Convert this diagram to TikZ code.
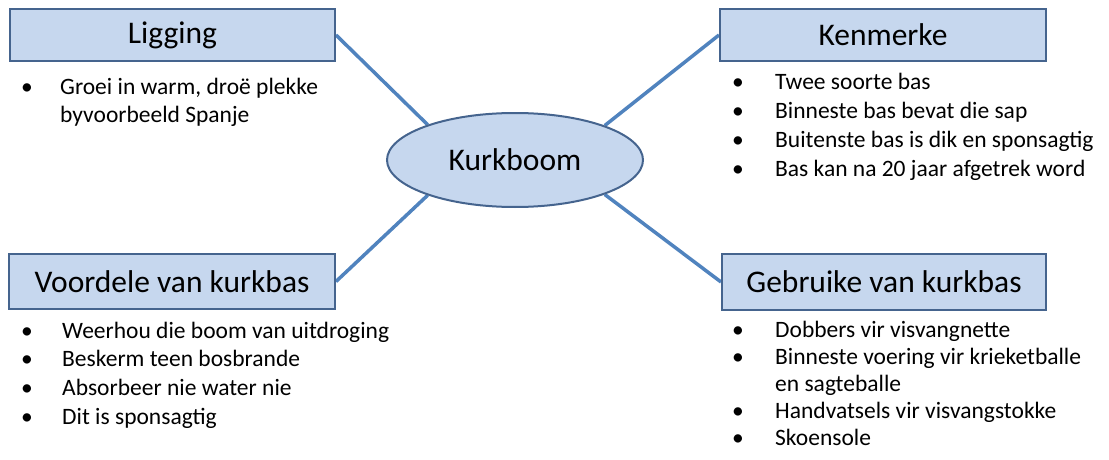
\documentclass[tikz,border=0pt]{standalone}
\usepackage{fontspec}
\setmainfont{Carlito}
\usetikzlibrary{shapes.geometric}
\pgfdeclarelayer{background}
\pgfsetlayers{background,main}
\definecolor{boxfill}{HTML}{C6D7EE}
\definecolor{boxline}{HTML}{45648E}
\definecolor{linkline}{HTML}{5083BE}
\newcommand{\bul}{\textbullet}
\tikzset{
  headbox/.style={draw=boxline, line width=2pt, fill=boxfill, inner sep=0pt,
    font=\fontsize{31.5}{36}\selectfont},
  hub/.style={ellipse, draw=boxline, line width=2pt, fill=boxfill, inner sep=0pt,
    minimum width=256pt, minimum height=94pt, font=\fontsize{31.5}{36}\selectfont},
  link/.style={draw=linkline, line width=3.5pt},
  itemlist/.style={anchor=base west, inner sep=0pt,
    font=\fontsize{23.5}{28.7}\selectfont}
}
\begin{document}
\begin{tikzpicture}[x=1pt,y=-1pt]
\useasboundingbox (0,0) rectangle (1109,460);

% central topic and the four headings
\node[hub] (hub) at (515,160) {Kurkboom};
\node[headbox, minimum width=325pt, minimum height=52pt] (lig) at (172.5,35) {Ligging};
\node[headbox, minimum width=326pt, minimum height=52pt] (ken) at (883,35) {Kenmerke};
\node[headbox, minimum width=326pt, minimum height=55pt] (voo) at (172,281.5) {Voordele van kurkbas};
\node[headbox, minimum width=324pt, minimum height=56pt] (geb) at (884,282) {Gebruike van kurkbas};

% connectors, kept behind the shapes
\begin{pgfonlayer}{background}
\draw[link] (lig.east) -- (hub.158);
\draw[link] (ken.west) -- (hub.21);
\draw[link] (voo.east) -- (hub.202);
\draw[link] (geb.west) -- (hub.339);
\end{pgfonlayer}

% bullet lists
\node[itemlist, font=\fontsize{23.5}{28}\selectfont] (liglist) at (21,95) {%
  \begin{tabular}[t]{@{}p{39pt}@{}l@{}}
  \bul & Groei in warm, droë plekke\\
       & byvoorbeeld Spanje
  \end{tabular}};

\node[itemlist] (kenlist) at (732,90) {%
  \begin{tabular}[t]{@{}p{43pt}@{}l@{}}
  \bul & Twee soorte bas\\
  \bul & Binneste bas bevat die sap\\
  \bul & Buitenste bas is dik en sponsagtig\\
  \bul & Bas kan na 20 jaar afgetrek word
  \end{tabular}};

\node[itemlist] (voolist) at (21,338) {%
  \begin{tabular}[t]{@{}p{41pt}@{}l@{}}
  \bul & Weerhou die boom van uitdroging\\
  \bul & Beskerm teen bosbrande\\
  \bul & Absorbeer nie water nie\\
  \bul & Dit is sponsagtig
  \end{tabular}};

\node[itemlist, font=\fontsize{23.5}{27}\selectfont] (geblist) at (732,337) {%
  \begin{tabular}[t]{@{}p{43pt}@{}l@{}}
  \bul & Dobbers vir visvangnette\\
  \bul & Binneste voering vir krieketballe\\
       & en sagteballe\\
  \bul & Handvatsels vir visvangstokke\\
  \bul & Skoensole
  \end{tabular}};
\end{tikzpicture}
\end{document}
